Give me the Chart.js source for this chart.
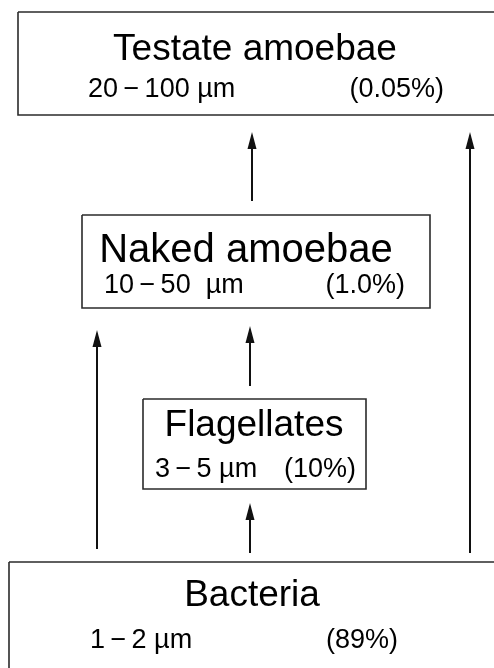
<!DOCTYPE html>
<html lang="en">
<head>
    <meta charset="UTF-8">
    <title>Protist food web</title>
    <script src="https://cdn.jsdelivr.net/npm/chart.js"></script>
    <style>
        html, body {
            margin: 0;
            padding: 0;
            background: #ffffff;
        }
        #wrap {
            width: 494px;
            height: 668px;
        }
    </style>
</head>
<body>
    <div id="wrap">
        <canvas id="web" width="494" height="668"></canvas>
    </div>

    <script>
        // Groups, top of the web first
        const groups = ['Testate amoebae', 'Naked amoebae', 'Flagellates', 'Bacteria'];
        const sizeRanges = ['20\u2212100 \u00b5m', '10\u221250  \u00b5m', '3\u22125 \u00b5m', '1\u22122 \u00b5m'];
        const shares = ['(0.05%)', '(1.0%)', '(10%)', '(89%)'];

        // Feeding links (prey -> predator)
        const linkFrom = ['Bacteria', 'Flagellates', 'Naked amoebae', 'Bacteria', 'Bacteria'];
        const linkTo = ['Flagellates', 'Naked amoebae', 'Testate amoebae', 'Naked amoebae', 'Testate amoebae'];

        // Layout in page units (same order as groups): [left, top, right, bottom]
        const boxRects = [
            [18, 12, 497, 115],
            [82, 215, 430, 308],
            [143, 399, 366, 489],
            [9, 562, 502, 690]
        ];
        const titleCenter = [255, 246, 254, 252];
        const titleBase = [60, 262, 436, 606];
        const titleSize = [37, 40, 37, 37];
        const subBase = [97, 293, 477, 648];
        const sizeLeft = [88, 104, 155, 90];
        const shareRight = [444, 405, 356, 398];

        // Arrow layout (same order as links): [x, tail y, tip y]
        const arrowPath = [
            [250, 553, 503],
            [250, 386, 326],
            [252, 201, 132],
            [97, 549, 330],
            [470, 553, 132]
        ];

        const FONT = '"Liberation Sans", Arial, Helvetica, sans-serif';
        const HEAD_LEN = 17;
        const HEAD_W = 9;

        const datasets = [];
        groups.forEach((g, i) => {
            const [l, t, r, b] = boxRects[i];
            datasets.push({
                label: g,
                data: [{x: l, y: t}, {x: r, y: t}, {x: r, y: b}, {x: l, y: b}, {x: l, y: t}],
                showLine: true,
                borderColor: '#2b2b2b',
                borderWidth: 1.6,
                borderJoinStyle: 'miter',
                pointRadius: 0,
                fill: false,
                tension: 0
            });
        });
        linkFrom.forEach((from, i) => {
            const [x, tail, tip] = arrowPath[i];
            datasets.push({
                label: from + ' \u2192 ' + linkTo[i],
                data: [{x: x, y: tail}, {x: x, y: tip + HEAD_LEN - 2}],
                showLine: true,
                borderColor: '#111111',
                borderWidth: 2,
                pointRadius: 0,
                fill: false
            });
        });

        // the original sets the range dash apart with thin spaces
        const spaced = s => s.replace('\u2212', '\u2009\u2212\u2009');

        const diagramPlugin = {
            id: 'diagram',
            afterDatasetsDraw(chart) {
                const c = chart.ctx;
                const xs = chart.scales.x;
                const ys = chart.scales.y;
                c.save();

                // arrowheads
                c.fillStyle = '#111111';
                arrowPath.forEach(([x, tail, tip]) => {
                    const px = xs.getPixelForValue(x);
                    const tipY = ys.getPixelForValue(tip);
                    const baseY = ys.getPixelForValue(tip + HEAD_LEN);
                    c.beginPath();
                    c.moveTo(px, tipY);
                    c.lineTo(px + HEAD_W / 2, baseY);
                    c.lineTo(px - HEAD_W / 2, baseY);
                    c.closePath();
                    c.fill();
                });

                // labels
                c.fillStyle = '#000000';
                c.textBaseline = 'alphabetic';
                groups.forEach((g, i) => {
                    c.font = titleSize[i] + 'px ' + FONT;
                    c.textAlign = 'center';
                    c.fillText(g, xs.getPixelForValue(titleCenter[i]), ys.getPixelForValue(titleBase[i]));

                    c.font = '27px ' + FONT;
                    c.textAlign = 'left';
                    c.fillText(spaced(sizeRanges[i]), xs.getPixelForValue(sizeLeft[i]), ys.getPixelForValue(subBase[i]));
                    c.textAlign = 'right';
                    c.fillText(shares[i], xs.getPixelForValue(shareRight[i]), ys.getPixelForValue(subBase[i]));
                });
                c.restore();
            }
        };

        const ctx = document.getElementById('web').getContext('2d');
        new Chart(ctx, {
            type: 'scatter',
            data: { datasets },
            options: {
                responsive: false,
                animation: false,
                events: [],
                layout: { padding: 0 },
                plugins: {
                    legend: { display: false },
                    tooltip: { enabled: false }
                },
                scales: {
                    x: { type: 'linear', min: 0, max: 494, display: false },
                    y: { type: 'linear', min: 0, max: 668, reverse: true, display: false }
                }
            },
            plugins: [diagramPlugin]
        });
    </script>
</body>
</html>
